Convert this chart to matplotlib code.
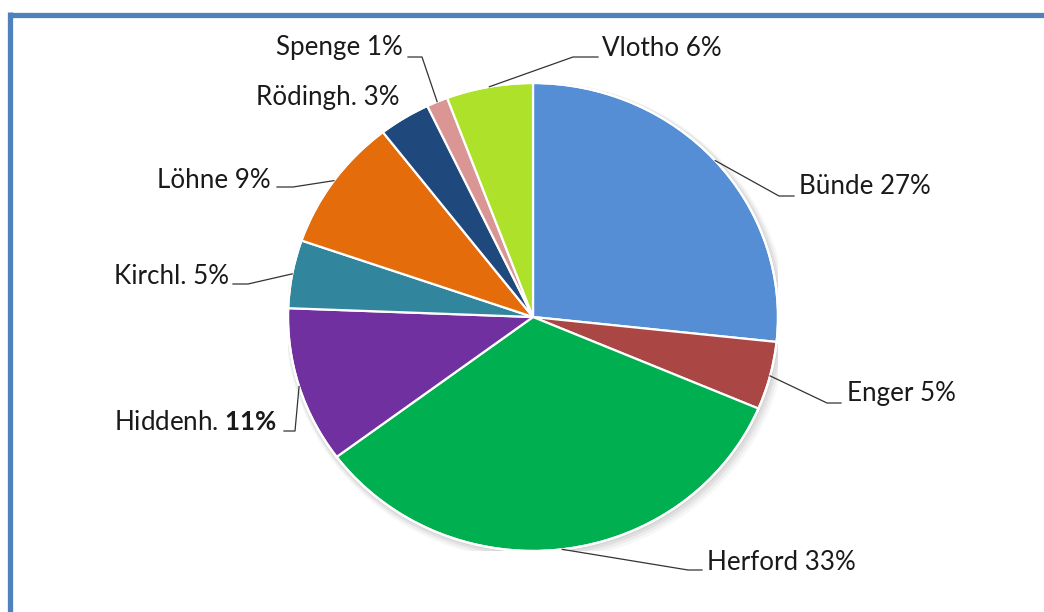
import numpy as np
import matplotlib
matplotlib.use("Agg")
import matplotlib.pyplot as plt
from matplotlib.patches import Ellipse

# Share of each town (percent), clockwise from the top
towns = ["Bünde", "Enger", "Herford", "Hiddenh.", "Kirchl.", "Löhne", "Rödingh.", "Spenge", "Vlotho"]
shares = [26.7, 4.7, 33.4, 10.8, 4.7, 9.2, 3.4, 1.4, 5.7]
emphasised = {"Hiddenh."}

colors = ["#558ED5", "#AA4643", "#00B050", "#7030A0", "#31859C",
          "#E46C0A", "#1F497D", "#D99694", "#AEE22A"]

FONT = "Lato"
plt.rcParams["font.family"] = [FONT, "DejaVu Sans"]
plt.rcParams["mathtext.fontset"] = "custom"
plt.rcParams["mathtext.rm"] = FONT
plt.rcParams["mathtext.bf"] = FONT + ":bold"

W, H = 1044, 612
fig = plt.figure(figsize=(W / 100, H / 100), dpi=100)
fig.patch.set_facecolor("white")

# pie area in pixel units (centre and half-axes)
cx, cy, rx, ry = 533, 317, 245, 234
ax = fig.add_axes([(cx - rx) / W, (H - cy - ry) / H, 2 * rx / W, 2 * ry / H])

# soft drop shadow behind the pie
for i, a in enumerate([0.05, 0.05, 0.04, 0.03]):
    d = 0.006 * (i + 1)
    ax.add_patch(Ellipse((d * 0.6, -d * 0.8), 2 + 2 * d, 2 + 2 * d,
                         facecolor="#000000", alpha=a, edgecolor="none", zorder=0))

wedges, _ = ax.pie(shares, colors=colors, startangle=90, counterclock=False,
                   radius=1.0,
                   wedgeprops=dict(edgecolor="white", linewidth=1.6))
for w in wedges:
    w.set_zorder(2)
ax.add_patch(Ellipse((0, 0), 2.0, 2.0, facecolor="none", edgecolor="white",
                     linewidth=1.6, zorder=3))
ax.set_aspect("auto")
ax.set_xlim(-1, 1)
ax.set_ylim(-1, 1)
ax.axis("off")

# overlay in pixel coordinates (y downwards) for frame, labels and leaders
ov = fig.add_axes([0, 0, 1, 1])
ov.set_xlim(0, W)
ov.set_ylim(H, 0)
ov.axis("off")

frame_col = "#4F81BD"
ov.plot([9.5, W + 5], [14.5, 14.5], color=frame_col, lw=3.8, solid_capstyle="butt")
ov.plot([9.5, 9.5], [12, H + 5], color=frame_col, lw=3.8, solid_capstyle="butt")

layout = {
    "Bünde":    dict(text=(799, 187), ha="left",  hook=(794, 196), elbow=(779, 196)),
    "Enger":    dict(text=(847, 394), ha="left",  hook=(841, 403), elbow=(827, 403)),
    "Herford":  dict(text=(707, 563), ha="left",  hook=(702, 570), elbow=(688, 570)),
    "Hiddenh.": dict(text=(277, 423), ha="right", hook=(284, 431), elbow=(295, 431)),
    "Kirchl.":  dict(text=(229, 277), ha="right", hook=(233, 284), elbow=(248, 284)),
    "Löhne":    dict(text=(271, 180), ha="right", hook=(277, 187), elbow=(293, 187)),
    "Rödingh.": dict(text=(399, 97),  ha="right", hook=None, elbow=None),
    "Spenge":   dict(text=(403, 48),  ha="right", hook=(408, 57), elbow=(422, 57)),
    "Vlotho":   dict(text=(602, 48),  ha="left",  hook=(598, 57), elbow=(573, 57)),
}

fig.canvas.draw()
to_ov = ov.transData.inverted()
for name, val, w in zip(towns, shares, wedges):
    pct = f"{round(val)}\\%" if name in emphasised else f"{round(val)}%"
    label = f"{name} $\\mathbf{{{pct}}}$" if name in emphasised else f"{name} {pct}"
    spec = layout[name]
    tx, ty = spec["text"]
    ov.text(tx, ty, label, ha=spec["ha"], va="center", fontsize=18.7, color="#1a1a1a")
    if spec["hook"] is not None:
        mid = np.deg2rad((w.theta1 + w.theta2) / 2)
        px, py = to_ov.transform(ax.transData.transform((np.cos(mid), np.sin(mid))))
        ex, ey = spec["elbow"]
        hx, hy = spec["hook"]
        ov.plot([px, ex, hx], [py, ey, hy], color="#333333", lw=0.9)

fig.savefig("out.png", dpi=100, facecolor="white")
